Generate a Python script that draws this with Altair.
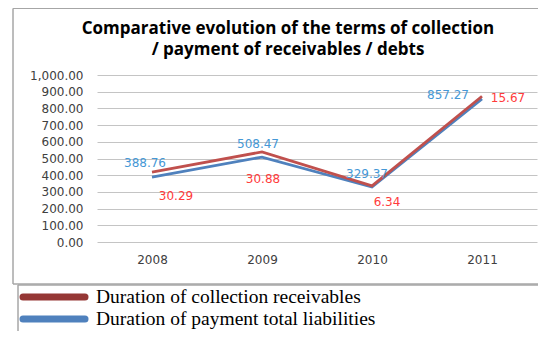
import altair as alt
import pandas as pd

years = ["2008", "2009", "2010", "2011"]
series_names = ["Duration of collection receivables", "Duration of payment total liabilities"]
red_values = [419.05, 539.35, 335.71, 872.94]
blue_values = [388.76, 508.47, 329.37, 857.27]
red_labels = ["30.29", "30.88", "6.34", "15.67"]
blue_labels = ["388.76", "508.47", "329.37", "857.27"]

rows = []
for i, y in enumerate(years):
    rows.append({"year": y, "series": series_names[0], "value": red_values[i], "label": red_labels[i]})
    rows.append({"year": y, "series": series_names[1], "value": blue_values[i], "label": blue_labels[i]})
df = pd.DataFrame(rows)
legend_df = pd.DataFrame({"series": series_names})

RED = "#C0504D"
BLUE = "#4F81BD"
RED_TXT = "#FF3B3B"
BLUE_TXT = "#4598D6"
LEG_RED = "#953735"

W, H = 440, 167

x_scale = alt.Scale(type="point", padding=0.5)
y_scale = alt.Scale(domain=[0, 1000], nice=False)
x_axis = alt.Axis(title=None, labelAngle=0, ticks=False, domain=False, grid=False,
                  labelPadding=12, labelFont="DejaVu Sans", labelFontSize=12,
                  labelColor="#404040")
y_axis = alt.Axis(title=None, values=list(range(0, 1001, 100)), format=",.2f",
                  ticks=False, domain=False, gridColor="#C4C4C4", gridWidth=1,
                  labelOverlap=False, labelPadding=14, labelFont="DejaVu Sans",
                  labelFontSize=12, labelColor="#404040")
x_enc = alt.X("year:N", scale=x_scale, axis=x_axis)
y_enc = alt.Y("value:Q", scale=y_scale, axis=y_axis)

base = alt.Chart(df)

blue_line = base.transform_filter(alt.datum.series == series_names[1]).mark_line(
    strokeWidth=2.8, color=BLUE).encode(x=x_enc, y=y_enc)
red_line = base.transform_filter(alt.datum.series == series_names[0]).mark_line(
    strokeWidth=2.8, color=RED).encode(x=x_enc, y=y_enc)

blue_off = {"2008": (-7, -14), "2009": (-4, -13), "2010": (-5, -13), "2011": (-34, -4)}
red_off = {"2008": (24, 24), "2009": (1, 27), "2010": (15, 16), "2011": (26, 2)}

label_layers = []
for yr in years:
    for s_idx, off, col in ((1, blue_off, BLUE_TXT), (0, red_off, RED_TXT)):
        dx, dy = off[yr]
        label_layers.append(
            base.transform_filter((alt.datum.series == series_names[s_idx]) & (alt.datum.year == yr))
            .mark_text(font="DejaVu Sans", fontSize=12, color=col, dx=dx, dy=dy,
                       baseline="middle", align="center")
            .encode(x=x_enc, y=y_enc, text="label:N"))

frame = alt.Chart(legend_df).mark_rect(fill=None, stroke="#A6A6A6", strokeWidth=1).encode(
    x=alt.value(-84), x2=alt.value(460), y=alt.value(-66.5), y2=alt.value(209))
legend_frame = alt.Chart(legend_df).mark_rect(fill=None, stroke="#A6A6A6", strokeWidth=1).encode(
    x=alt.value(-79), x2=alt.value(460), y=alt.value(210), y2=alt.value(270))

leg_layers = []
for idx, (row_y, col) in enumerate(((222, LEG_RED), (244, BLUE))):
    sub = alt.Chart(legend_df).transform_filter(alt.datum.series == series_names[idx])
    leg_layers.append(sub.mark_rule(strokeWidth=7, strokeCap="round", color=col).encode(
        x=alt.value(-74), x2=alt.value(-12), y=alt.value(row_y)))
    leg_layers.append(sub.mark_text(font="Liberation Serif", fontSize=19.5, color="#000000",
                                    align="left", baseline="middle").encode(
        x=alt.value(-1), y=alt.value(row_y), text="series:N"))

chart = alt.layer(blue_line, red_line, *label_layers, frame, legend_frame, *leg_layers).properties(
    width=W, height=H,
    title=alt.TitleParams(text=["Comparative evolution of the terms of collection",
                                "/ payment of receivables / debts"],
                          font="Open Sans", fontSize=17, fontWeight="bold", color="#000000",
                          anchor="middle", dx=-29, offset=-51, lineHeight=21),
    padding={"left": 89, "top": 67, "right": 1, "bottom": 89},
    autosize=alt.AutoSizeParams(type="none"),
).configure_view(stroke=None)

chart.save("out.html", embed_options={"renderer": "svg", "actions": False})
